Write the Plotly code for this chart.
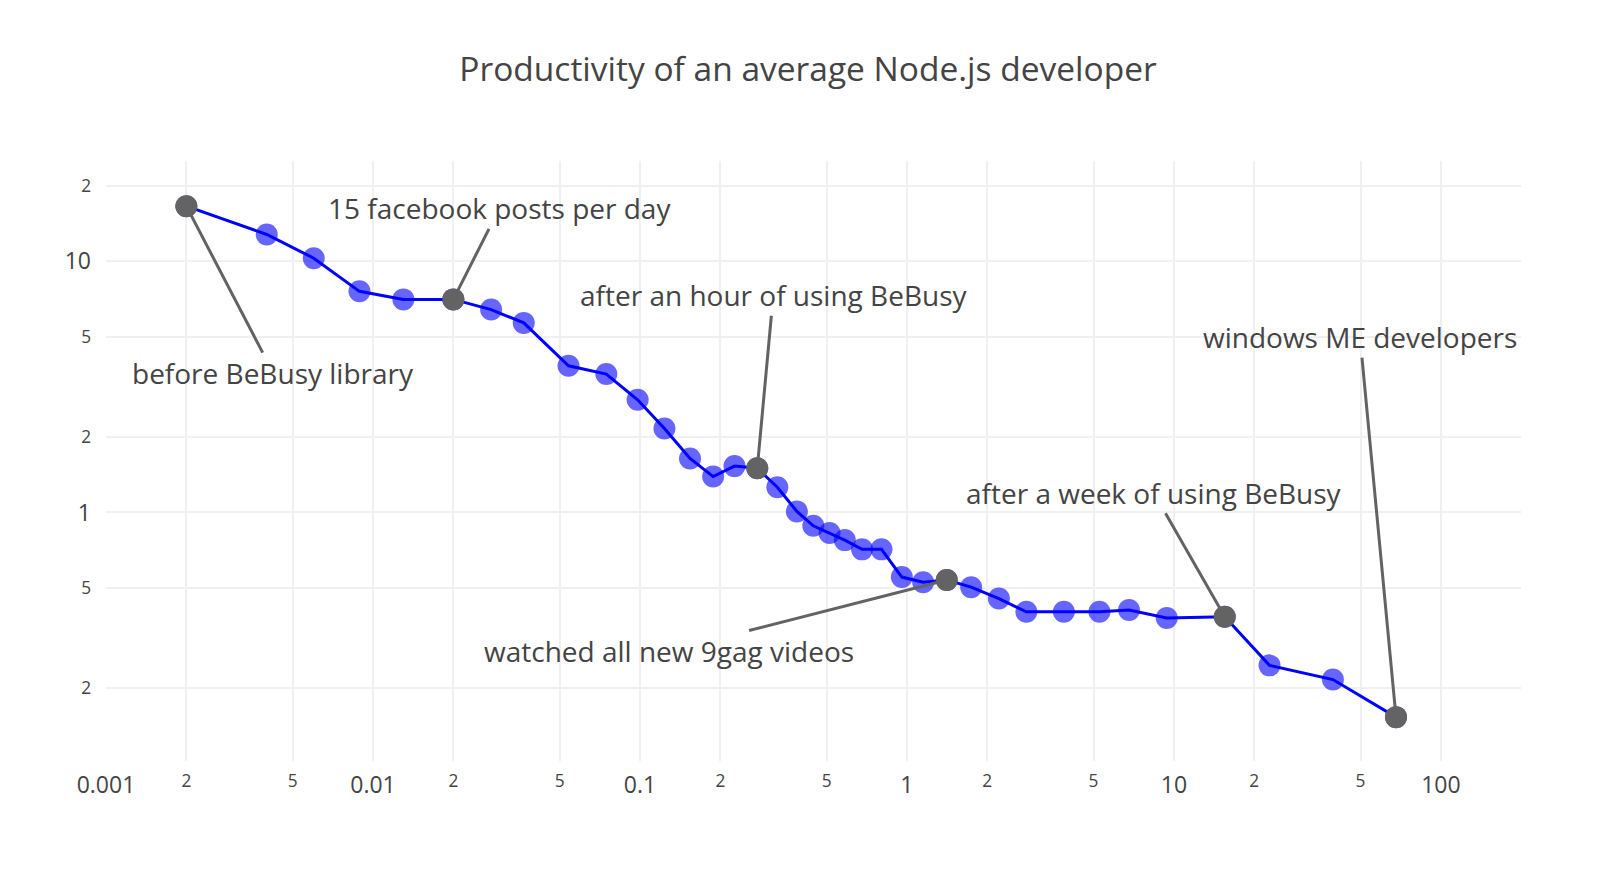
import math
import plotly.graph_objects as go

time_x = [0.002, 0.004, 0.006, 0.0089, 0.013, 0.02, 0.0277, 0.0367, 0.054, 0.0748,
          0.098, 0.1235, 0.154, 0.188, 0.226, 0.275, 0.327, 0.387, 0.446, 0.513,
          0.585, 0.679, 0.803, 0.957, 1.15, 1.41, 1.74, 2.21, 2.80, 3.87,
          5.26, 6.79, 9.4, 15.5, 22.8, 39.4, 67.9]
productivity = [16.6, 12.8, 10.3, 7.6, 7.06, 7.06, 6.43, 5.69, 3.84, 3.56,
                2.81, 2.16, 1.64, 1.39, 1.53, 1.50, 1.26, 1.01, 0.885, 0.828,
                0.776, 0.713, 0.713, 0.553, 0.527, 0.538, 0.504, 0.454, 0.402, 0.402,
                0.402, 0.409, 0.38, 0.384, 0.246, 0.216, 0.153]

note_idx = [0, 5, 15, 25, 33, 36]
note_text = ["before BeBusy library", "15 facebook posts per day",
             "after an hour of using BeBusy", "watched all new 9gag videos",
             "after a week of using BeBusy", "windows ME developers"]
note_ax = [87, 46, 16, -278, -71, -36]
note_ay = [167, -91, -173, 71, -124, -380]

fig = go.Figure()
fig.add_trace(go.Scatter(
    x=time_x, y=productivity, mode="lines+markers",
    line=dict(color="#0000ff", width=3),
    marker=dict(color="rgba(0,0,255,0.6)", size=22),
    showlegend=False, hoverinfo="x+y"))
fig.add_trace(go.Scatter(
    x=[time_x[i] for i in note_idx], y=[productivity[i] for i in note_idx],
    mode="markers", marker=dict(color="#636363", size=22),
    showlegend=False, hoverinfo="x+y"))

annotations = []
for i, t, ax, ay in zip(note_idx, note_text, note_ax, note_ay):
    annotations.append(dict(
        x=math.log10(time_x[i]), y=math.log10(productivity[i]), xref="x", yref="y",
        text=t, showarrow=True, arrowhead=0, arrowwidth=3, arrowcolor="#636363",
        ax=ax, ay=ay, font=dict(size=28, color="#444")))
fig.update_layout(annotations=annotations)

fig.update_layout(
    width=1600, height=880,
    paper_bgcolor="white", plot_bgcolor="white",
    font=dict(family="Open Sans, verdana, arial, sans-serif", color="#444"),
    title=dict(text="Productivity of an average Node.js developer",
               x=0.5, xanchor="center", y=1 - 61 / 880, yanchor="middle",
               font=dict(size=33.5, color="#444")),
    margin=dict(l=98, r=87, t=153, b=127),
    xaxis=dict(type="log", range=[-3, 2.3], dtick="D2", showgrid=True,
               gridcolor="#f0f0f0", gridwidth=2, zeroline=False, showline=False,
               tickfont=dict(size=23, color="#444"), ticks="",
               ticklabelstandoff=8),
    yaxis=dict(type="log", range=[-0.99, 1.4], dtick="D2", showgrid=True,
               gridcolor="#f0f0f0", gridwidth=2, zeroline=False, showline=False,
               tickfont=dict(size=23, color="#444"), ticks="",
               ticklabelstandoff=14),
)

fig.write_html("out.html")
